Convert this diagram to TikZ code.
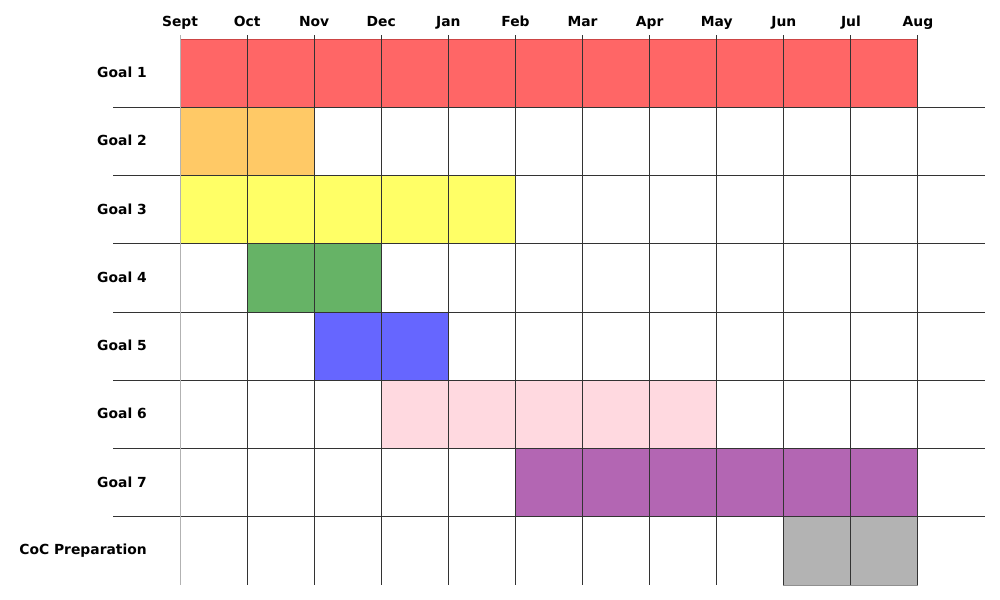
\documentclass[tikz,border=0pt]{standalone}
\usepackage{fontspec}
\setmainfont{DejaVu Sans}
\begin{document}
\begin{tikzpicture}[x=0.75pt,y=-0.75pt,
  lbl/.style={font=\fontsize{10.4}{12}\selectfont\bfseries, inner sep=0pt},
  gridln/.style={draw=black!80, line width=0.75pt},
  bar/.style={line width=0.75pt}]
\useasboundingbox (0,0) rectangle (1000,600);
\definecolor{cred}{HTML}{FF6666}\definecolor{ered}{HTML}{CC4444}
\definecolor{corange}{HTML}{FFC966}\definecolor{eorange}{HTML}{E0A848}
\definecolor{cyellow}{HTML}{FFFF66}\definecolor{eyellow}{HTML}{E0E048}
\definecolor{cgreen}{HTML}{66B366}\definecolor{egreen}{HTML}{3C7A3C}
\definecolor{cblue}{HTML}{6666FF}\definecolor{eblue}{HTML}{3333AA}
\definecolor{cpink}{HTML}{FFD9E0}\definecolor{epink}{HTML}{D8B0B8}
\definecolor{cpurple}{HTML}{B366B3}\definecolor{epurple}{HTML}{7A2A7A}
\definecolor{cgray}{HTML}{B3B3B3}\definecolor{egray}{HTML}{909090}
\def\colw{67.09}
% bars: {start col}{end col}{row}{fill}{edge}
\foreach \s/\e/\r/\f/\d in {0/11/0/cred/ered, 0/2/1/corange/eorange, 0/5/2/cyellow/eyellow,
  1/3/3/cgreen/egreen, 2/4/4/cblue/eblue, 3/8/5/cpink/epink, 5/11/6/cpurple/epurple, 9/11/7/cgray/egray}{
  \filldraw[bar, fill=\f, draw=\d] ({180+\s*\colw},{39+\r*68.25}) rectangle ({180+\e*\colw},{39+(\r+1)*68.25});
}
% horizontal grid lines
\foreach \r in {1,...,7}{
  \draw[gridln] (113,{39+\r*68.25}) -- (985,{39+\r*68.25});
}
% vertical grid lines
\draw[line width=0.75pt, draw=black!30] (180,35) -- (180,585);
\foreach \i in {1,...,11}{
  \draw[gridln] ({180+\i*\colw},35) -- ({180+\i*\colw},585);
}
% month labels
\foreach \m [count=\i from 0] in {Sept,Oct,Nov,Dec,Jan,Feb,Mar,Apr,May,Jun,Jul,Aug}{
  \node[lbl, anchor=base] (m\i) at ({180+\i*\colw},26) {\m};
}
% goal labels
\foreach \g [count=\r from 0] in {Goal 1,Goal 2,Goal 3,Goal 4,Goal 5,Goal 6,Goal 7,CoC Preparation}{
  \node[lbl, anchor=east] (g\r) at (147,{72.5+\r*68.25}) {\g};
}
\end{tikzpicture}
\end{document}
